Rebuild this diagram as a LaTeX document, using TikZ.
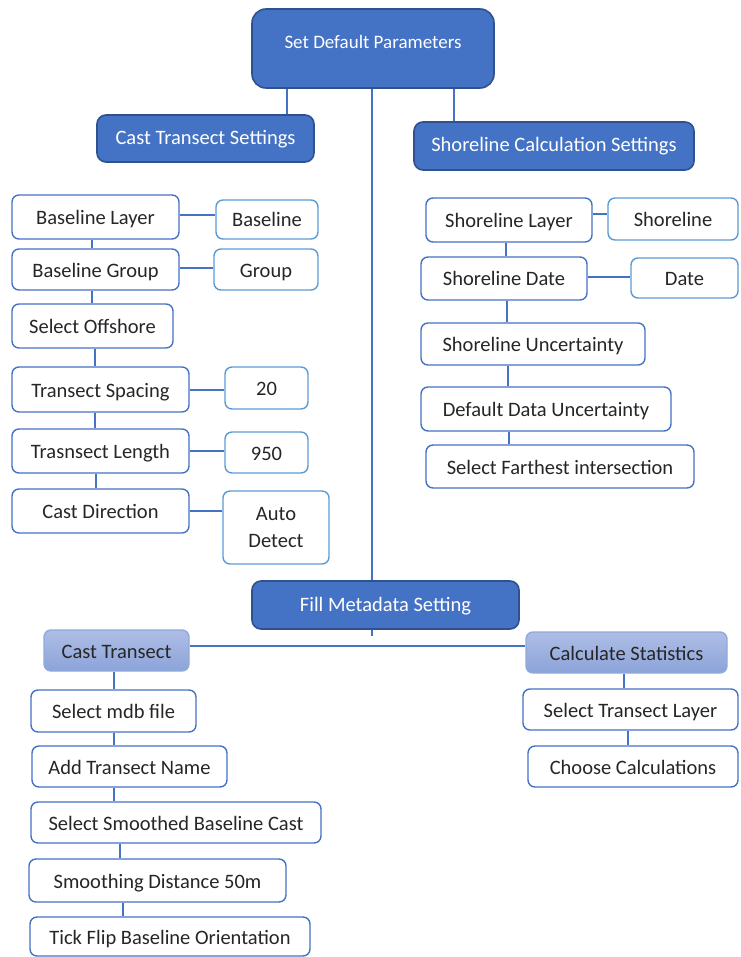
\documentclass[tikz,border=0pt]{standalone}
\usepackage{fontspec}
\setmainfont{Carlito}
\usepackage{tikz}

\definecolor{headblue}{HTML}{4472C4}
\definecolor{headedge}{HTML}{2F528F}
\definecolor{boxedge}{HTML}{4472C4}
\definecolor{valedge}{HTML}{5B9BD5}
\definecolor{subtop}{HTML}{AEBDE4}
\definecolor{subbot}{HTML}{8CA4DA}
\definecolor{subedge}{HTML}{8FAADC}
\definecolor{txt}{HTML}{262626}

\begin{document}
\begin{tikzpicture}[x=1pt,y=-1pt,
  head/.style={draw=headedge,line width=1.6pt,fill=headblue,rounded corners=9pt,
    text=white,font=\fontsize{20.5}{24}\selectfont,inner sep=0pt,
    text height=16pt,text depth=4pt},
  stepbox/.style={draw=boxedge,line width=1.4pt,fill=white,rounded corners=7pt,
    text=txt,font=\fontsize{20.5}{24}\selectfont,inner sep=0pt,
    text height=18.5pt,text depth=3.5pt},
  valbox/.style={stepbox,draw=valedge},
  subhead/.style={draw=subedge,line width=1.4pt,top color=subtop,bottom color=subbot,
    rounded corners=7pt,text=txt,font=\fontsize{20.5}{24}\selectfont,inner sep=0pt,
    text height=18.5pt,text depth=3.5pt},
  link/.style={draw=boxedge,line width=1.4pt}]

\useasboundingbox (0,0) rectangle (740,957);

% Top level boxes.
\node[head,rounded corners=14pt,minimum width=242pt,minimum height=79pt,
  text height=13pt,text depth=13pt,font=\fontsize{19}{22}\selectfont]
  (sdp) at (373,48.5) {Set Default Parameters};
\node[head,minimum width=217pt,minimum height=47pt] (cts) at (205.5,138.5) {Cast Transect Settings};
\node[head,minimum width=280pt,minimum height=48pt] (scs) at (554,146) {Shoreline Calculation Settings};
\node[head,minimum width=267pt,minimum height=48pt,text height=17pt,text depth=5pt]
  (fms) at (385.5,605) {Fill Metadata Setting};

% Cast transect settings column.
\node[stepbox,minimum width=167pt,minimum height=44pt] (bl) at (95.5,217) {Baseline Layer};
\node[valbox,minimum width=102pt,minimum height=39pt] (blv) at (267,219.5) {Baseline};
\node[stepbox,minimum width=167pt,minimum height=41pt] (bg) at (95.5,269.5) {Baseline Group};
\node[valbox,minimum width=104pt,minimum height=41pt] (bgv) at (266,269.5) {Group};
\node[stepbox,minimum width=161pt,minimum height=44pt] (so) at (92.5,326) {Select Offshore};
\node[stepbox,minimum width=177pt,minimum height=45pt] (ts) at (100.5,389.5) {Transect Spacing};
\node[valbox,minimum width=83pt,minimum height=42pt] (tsv) at (266.5,388) {20};
\node[stepbox,minimum width=177pt,minimum height=44pt] (tl) at (100.5,451) {Trasnsect Length};
\node[valbox,minimum width=83pt,minimum height=41pt] (tlv) at (266.5,452.5) {950};
\node[stepbox,minimum width=177pt,minimum height=44pt] (cd) at (100.5,511) {Cast Direction};
\node[valbox,minimum width=106pt,minimum height=73pt,align=center,text height=,text depth=]
  (cdv) at (276,527.5) {Auto\\[3pt]Detect};

% Shoreline settings column.
\node[stepbox,minimum width=166pt,minimum height=44pt] (sl) at (509,220) {Shoreline Layer};
\node[valbox,minimum width=130pt,minimum height=42pt] (slv) at (673,219) {Shoreline};
\node[stepbox,minimum width=166pt,minimum height=43pt] (sd) at (504,278.5) {Shoreline Date};
\node[valbox,minimum width=107pt,minimum height=40pt] (sdv) at (684.5,278) {Date};
\node[stepbox,minimum width=224pt,minimum height=42pt] (su) at (533,344) {Shoreline Uncertainty};
\node[stepbox,minimum width=250pt,minimum height=44pt] (ddu) at (546,409) {Default Data Uncertainty};
\node[stepbox,minimum width=268pt,minimum height=43pt] (sfi) at (560,466.5) {Select Farthest intersection};

% Metadata branches.
\node[subhead,minimum width=145pt,minimum height=41pt] (ct) at (116.5,650.5) {Cast Transect};
\node[subhead,minimum width=201pt,minimum height=41pt] (cs) at (626.5,652.5) {Calculate Statistics};
\node[stepbox,minimum width=165pt,minimum height=42pt] (smf) at (113.5,711) {Select mdb file};
\node[stepbox,minimum width=195pt,minimum height=41pt] (atn) at (129.5,766.5) {Add Transect Name};
\node[stepbox,minimum width=290pt,minimum height=41pt] (ssb) at (176,822.5) {Select Smoothed Baseline Cast};
\node[stepbox,minimum width=257pt,minimum height=43pt] (sdm) at (157.5,880.5) {Smoothing Distance 50m};
\node[stepbox,minimum width=280pt,minimum height=39pt] (tfb) at (170,936.5) {Tick Flip Baseline Orientation};
\node[stepbox,minimum width=215pt,minimum height=41pt] (stl) at (630.5,709.5) {Select Transect Layer};
\node[stepbox,minimum width=210pt,minimum height=41pt] (cc) at (633,766.5) {Choose Calculations};

% Connectors from the top box.
\draw[link] (sdp.south -| 287,0) -- (cts.north -| 287,0);
\draw[link] (sdp.south -| 454,0) -- (scs.north -| 454,0);
\draw[link] (sdp.south -| 372,0) -- (fms.north -| 372,0);
\coordinate (hub) at (372,646);
\draw[link] (fms.south -| hub) -- (372,636);
\draw[link] (hub -| ct.east) -- (hub -| cs.west);

% Left column links.
\draw[link] (bl.south -| 92,0) -- (bg.north -| 92,0);
\draw[link] (bg.south -| 92,0) -- (so.north -| 92,0);
\draw[link] (so.south -| 95,0) -- (ts.north -| 95,0);
\draw[link] (ts.south -| 95,0) -- (tl.north -| 95,0);
\draw[link] (tl.south -| 96,0) -- (cd.north -| 96,0);
\draw[link] (bl.east |- 0,215) -- (blv.west |- 0,215);
\draw[link] (bg.east |- 0,268) -- (bgv.west |- 0,268);
\draw[link] (ts.east |- 0,390) -- (tsv.west |- 0,390);
\draw[link] (tl.east |- 0,451) -- (tlv.west |- 0,451);
\draw[link] (cd.east |- 0,511) -- (cdv.west |- 0,511);

% Right column links.
\draw[link] (sl.south -| 506,0) -- (sd.north -| 506,0);
\draw[link] (sd.south -| 507,0) -- (su.north -| 507,0);
\draw[link] (su.south -| 508,0) -- (ddu.north -| 508,0);
\draw[link] (ddu.south -| 509,0) -- (sfi.north -| 509,0);
\draw[link] (sl.east |- 0,214) -- (slv.west |- 0,214);
\draw[link] (sd.east |- 0,277) -- (sdv.west |- 0,277);

% Bottom links.
\draw[link] (ct.south -| 114,0) -- (smf.north -| 114,0);
\draw[link] (smf.south -| 114,0) -- (atn.north -| 114,0);
\draw[link] (atn.south -| 114,0) -- (ssb.north -| 114,0);
\draw[link] (ssb.south -| 120,0) -- (sdm.north -| 120,0);
\draw[link] (sdm.south -| 123,0) -- (tfb.north -| 123,0);
\draw[link] (cs.south -| 624,0) -- (stl.north -| 624,0);
\draw[link] (stl.south -| 628,0) -- (cc.north -| 628,0);

\end{tikzpicture}
\end{document}
